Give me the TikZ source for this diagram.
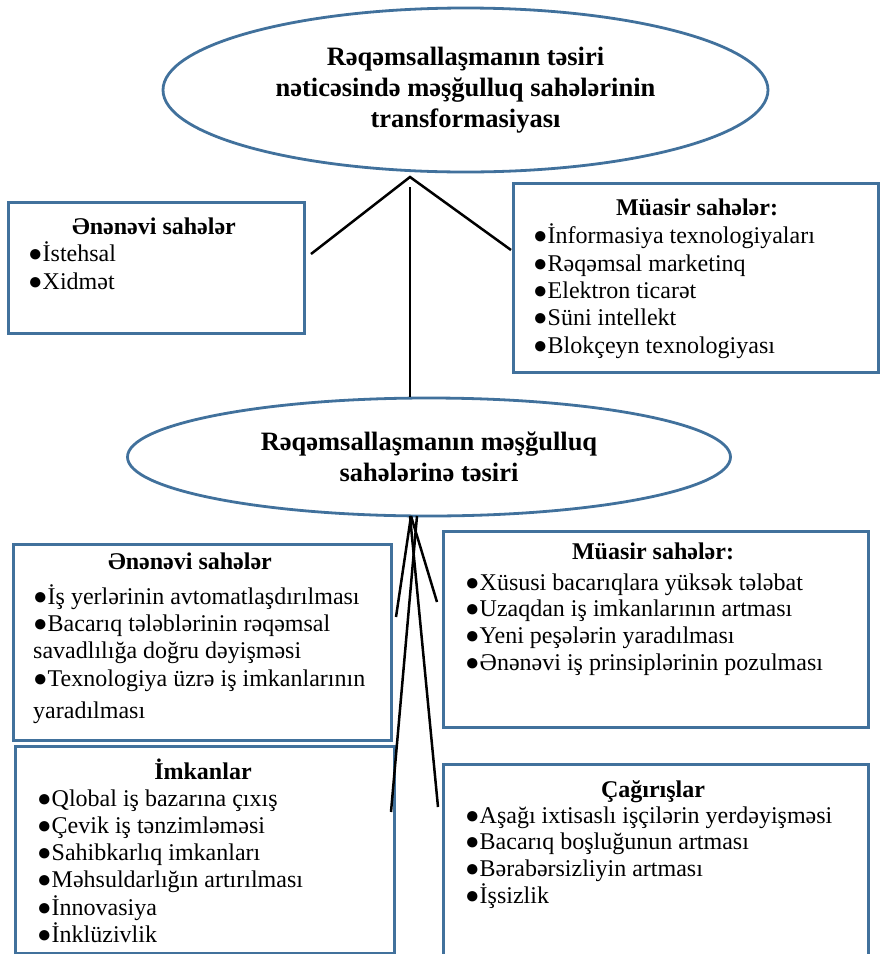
\documentclass[tikz,border=0pt]{standalone}
\usepackage{fontspec}
\setmainfont{Liberation Serif}
\usetikzlibrary{shapes.geometric}
\definecolor{boxblue}{RGB}{65,113,156}
\tikzset{
  box/.style={draw=boxblue, line width=2.8pt, rectangle, anchor=north west, inner sep=0pt},
  ell/.style={draw=boxblue, line width=2.8pt, ellipse, inner sep=0pt, align=center,
    font=\fontsize{26.5}{31}\selectfont\bfseries},
  ttl/.style={anchor=base, inner sep=0pt, font=\fontsize{24}{27.5}\selectfont\bfseries},
  item/.style={anchor=base west, inner sep=0pt, font=\fontsize{24}{27.5}\selectfont},
  conn/.style={line width=2.5pt, black}
}
\begin{document}
\begin{tikzpicture}[x=1pt,y=-1pt]
\clip (0,0) rectangle (880,954);
\fill[white] (0,0) rectangle (880,954);

% ellipses
\node[ell, minimum width=605pt, minimum height=164pt] (e1) at (465.5,90)
  {Rəqəmsallaşmanın təsiri\\nəticəsində məşğulluq sahələrinin\\transformasiyası};
\node[ell, minimum width=603pt, minimum height=118pt] (e2) at (429,457)
  {Rəqəmsallaşmanın məşğulluq\\sahələrinə təsiri};

% boxes
\node[box, minimum width=296pt, minimum height=131pt] (b1) at (7,201) {};
\node[box, minimum width=365pt, minimum height=189pt] (b2) at (512,182) {};
\node[box, minimum width=378pt, minimum height=196pt] (b3) at (12,543) {};
\node[box, minimum width=425pt, minimum height=196pt] (b4) at (442,530) {};
\node[box, minimum width=379pt, minimum height=207pt] (b5) at (14,745) {};
\node[box, minimum width=425pt, minimum height=230pt] (b6) at (442,763) {};

% titles
\node[ttl] (b1t) at (154,234) {Ənənəvi sahələr};
\node[ttl] (b2t) at (697,215) {Müasir sahələr:};
\node[ttl] (b3t) at (190,569) {Ənənəvi sahələr};
\node[ttl] (b4t) at (653,559) {Müasir sahələr:};
\node[ttl] (b5t) at (203,779) {İmkanlar};
\node[ttl] (b6t) at (653,797) {Çağırışlar};

% items
\node[item] (b1i1) at (28,261) {●İstehsal};
\node[item] (b1i2) at (28,289) {●Xidmət};

\node[item] (b2i1) at (533,243) {●İnformasiya texnologiyaları};
\node[item] (b2i2) at (533,271) {●Rəqəmsal marketinq};
\node[item] (b2i3) at (533,298) {●Elektron ticarət};
\node[item] (b2i4) at (533,325) {●Süni intellekt};
\node[item] (b2i5) at (533,353) {●Blokçeyn texnologiyası};

\node[item] (b3i1) at (33,604) {●İş yerlərinin avtomatlaşdırılması};
\node[item] (b3i2) at (33,631) {●Bacarıq tələblərinin rəqəmsal};
\node[item] (b3i3) at (33,658) {savadlılığa doğru dəyişməsi};
\node[item] (b3i4) at (33,686) {●Texnologiya üzrə iş imkanlarının};
\node[item] (b3i5) at (33,718) {yaradılması};

\node[item] (b4i1) at (465,590) {●Xüsusi bacarıqlara yüksək tələbat};
\node[item] (b4i2) at (465,616) {●Uzaqdan iş imkanlarının artması};
\node[item] (b4i3) at (465,643) {●Yeni peşələrin yaradılması};
\node[item] (b4i4) at (465,670) {●Ənənəvi iş prinsiplərinin pozulması};

\node[item] (b5i1) at (37,806) {●Qlobal iş bazarına çıxış};
\node[item] (b5i2) at (37,833) {●Çevik iş tənzimləməsi};
\node[item] (b5i3) at (37,860) {●Sahibkarlıq imkanları};
\node[item] (b5i4) at (37,887) {●Məhsuldarlığın artırılması};
\node[item] (b5i5) at (37,915) {●İnnovasiya};
\node[item] (b5i6) at (37,942) {●İnklüzivlik};

\node[item] (b6i1) at (465,823) {●Aşağı ixtisaslı işçilərin yerdəyişməsi};
\node[item] (b6i2) at (465,849) {●Bacarıq boşluğunun artması};
\node[item] (b6i3) at (465,876) {●Bərabərsizliyin artması};
\node[item] (b6i4) at (465,903) {●İşsizlik};

% connector coordinates
\coordinate (apex) at (410,177);
\coordinate (cl) at (311,254);
\coordinate (cr) at (511,250);
\coordinate (vt) at (410,187);
\coordinate (s1) at (411,516);
\coordinate (s2) at (417,516);
\coordinate (s3) at (410,516);
\coordinate (t1) at (396,617);
\coordinate (t2) at (437,602);
\coordinate (t3) at (391,812);
\coordinate (t4) at (438,807);

\draw[conn] (cl) -- (apex) -- (cr);
\draw[conn] (vt) -- (vt |- e2.north);
\draw[conn] (s1) -- (t1);
\draw[conn] (s1) -- (t2);
\draw[conn] (s2) -- (t3);
\draw[conn] (s3) -- (t4);
\end{tikzpicture}
\end{document}
